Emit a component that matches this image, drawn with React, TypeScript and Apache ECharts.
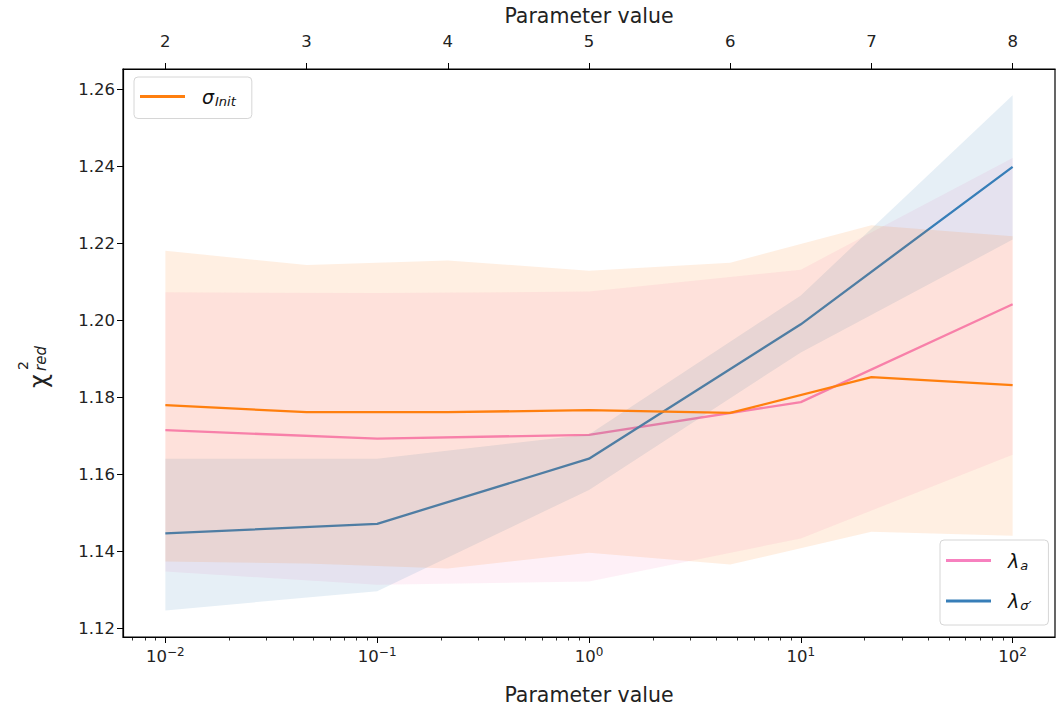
import React, { useEffect, useRef } from "react";
import * as echarts from "echarts";

// λ parameters (bottom, logarithmic axis)
const lambdaX = [0.01, 0.1, 1, 10, 100];
const lambdaAMean = [1.1714, 1.1692, 1.1702, 1.1787, 1.2041];
const lambdaALow = [1.1347, 1.1313, 1.1321, 1.1433, 1.165];
const lambdaAHigh = [1.2072, 1.207, 1.2074, 1.2131, 1.2421];

const lambdaSMean = [1.1446, 1.1471, 1.164, 1.1989, 1.2398];
const lambdaSLow = [1.1246, 1.1296, 1.1559, 1.1916, 1.2209];
const lambdaSHigh = [1.164, 1.164, 1.1703, 1.2064, 1.2584];

// σ_Init parameter (top, linear axis)
const sigmaX = [2, 3, 4, 5, 6, 7, 8];
const sigmaMean = [1.1779, 1.1761, 1.1761, 1.1766, 1.1759, 1.1852, 1.1831];
const sigmaLow = [1.1373, 1.1368, 1.1355, 1.1396, 1.1365, 1.145, 1.144];
const sigmaHigh = [1.218, 1.2143, 1.2155, 1.2128, 1.2149, 1.2246, 1.2218];

// axis ticks
const yTicks = [1.12, 1.14, 1.16, 1.18, 1.2, 1.22, 1.24, 1.26];
const logMajorTicks = [-2, -1, 0, 1, 2];
const logMinorMultipliers = [2, 3, 4, 5, 6, 7, 8, 9];
const logDecades = [-3, -2, -1, 0, 1, 2];
const topTicks = [2, 3, 4, 5, 6, 7, 8];

const FONT = "DejaVu Sans";
const ORANGE = "#ff7f0e";
const PINK = "#f781bf";
const BLUE = "#377eb8";

const LOG_MIN = -2.2;
const LOG_MAX = 2.2;

const logMinorTicks: number[] = [];
logDecades.forEach((d) => {
  logMinorMultipliers.forEach((m) => {
    const v = Math.log10(m) + d;
    if (v > LOG_MIN && v < LOG_MAX) logMinorTicks.push(v);
  });
});

function band(
  name: string,
  xAxisIndex: number,
  xs: number[],
  lo: number[],
  hi: number[],
  color: string,
  opacity: number,
  z: number
) {
  return {
    type: "custom",
    name,
    xAxisIndex,
    yAxisIndex: 0,
    z,
    silent: true,
    data: xs.map((x, i) => [x, lo[i], hi[i]]),
    encode: { x: 0, y: [1, 2] },
    renderItem: (params: any, api: any) => {
      if (params.dataIndex !== 0) return null;
      const upper = xs.map((x, i) => api.coord([x, hi[i]]));
      const lower = xs.map((x, i) => api.coord([x, lo[i]])).reverse();
      return {
        type: "polygon",
        shape: { points: upper.concat(lower) },
        style: { fill: color, opacity },
      };
    },
  };
}

function line(name: string, xAxisIndex: number, xs: number[], ys: number[], color: string, z: number) {
  return {
    type: "line",
    name,
    xAxisIndex,
    yAxisIndex: 0,
    z,
    data: xs.map((x, i) => [x, ys[i]]),
    showSymbol: false,
    symbol: "none",
    color,
    itemStyle: { color },
    lineStyle: { color, width: 2.3 },
  };
}

const legendRich = {
  g: { fontFamily: FONT, fontSize: 19, fontStyle: "italic", color: "#111", padding: [0, 0, 0, 12] },
  s: { fontFamily: FONT, fontSize: 13, fontStyle: "italic", color: "#111", padding: [9, 0, 0, 1] },
};

const legendLabels: Record<string, string> = {
  "σ_Init": "{g|σ}{s|Init}",
  "λ_a": "{g|λ}{s|a}",
  "λ_σ'": "{g|λ}{s|σ′}",
};

export default function App() {
  const ref = useRef<HTMLDivElement>(null);

  useEffect(() => {
    if (!ref.current) return;
    const chart = echarts.init(ref.current, undefined, { renderer: "svg" });
    const lx = lambdaX.map((v) => Math.log10(v));

    chart.setOption({
      animation: false,
      backgroundColor: "#ffffff",
      textStyle: { fontFamily: FONT },
      grid: {
        left: 123,
        right: 2,
        top: 67,
        bottom: 76,
        show: true,
        borderColor: "#000",
        borderWidth: 1.2,
        backgroundColor: "transparent",
      },
      xAxis: [
        {
          type: "value",
          position: "bottom",
          min: LOG_MIN,
          max: LOG_MAX,
          name: "Parameter value",
          nameLocation: "middle",
          nameGap: 47,
          nameTextStyle: { fontFamily: FONT, fontSize: 20.5, color: "#222" },
          axisLine: { show: true, onZero: false, lineStyle: { color: "#000", width: 1.2 } },
          axisTick: { show: true, customValues: logMajorTicks, length: 6, lineStyle: { color: "#000", width: 1 } },
          axisLabel: {
            customValues: logMajorTicks,
            margin: 9,
            fontFamily: FONT,
            fontSize: 16.5,
            color: "#222",
            formatter: (v: number) => `10{s|${v < 0 ? "−" + Math.abs(v) : v}}`,
            rich: { s: { fontFamily: FONT, fontSize: 12, color: "#222", padding: [0, 0, 9, 0] } },
          },
          splitLine: { show: false },
        },
        {
          type: "value",
          position: "bottom",
          min: LOG_MIN,
          max: LOG_MAX,
          axisLine: { show: false, onZero: false },
          axisTick: { show: true, customValues: logMinorTicks, length: 3.5, lineStyle: { color: "#000", width: 0.8 } },
          axisLabel: { show: false },
          splitLine: { show: false },
        },
        {
          type: "value",
          position: "top",
          min: 1.7,
          max: 8.3,
          name: "Parameter value",
          nameLocation: "middle",
          nameGap: 43,
          nameTextStyle: { fontFamily: FONT, fontSize: 20.5, color: "#222" },
          axisLine: { show: true, onZero: false, lineStyle: { color: "#000", width: 1.2 } },
          axisTick: { show: true, customValues: topTicks, length: 6, lineStyle: { color: "#000", width: 1 } },
          axisLabel: {
            customValues: topTicks,
            margin: 19,
            fontFamily: FONT,
            fontSize: 16.5,
            color: "#222",
          },
          splitLine: { show: false },
        },
      ],
      yAxis: {
        type: "value",
        min: 1.1177,
        max: 1.2652,
        axisLine: { show: true, onZero: false, lineStyle: { color: "#000", width: 1.2 } },
        axisTick: { show: true, customValues: yTicks, length: 6, lineStyle: { color: "#000", width: 1 } },
        axisLabel: {
          customValues: yTicks,
          margin: 8,
          fontFamily: FONT,
          fontSize: 16.5,
          color: "#222",
          formatter: (v: number) => v.toFixed(2),
        },
        splitLine: { show: false },
      },
      legend: [
        {
          data: ["σ_Init"],
          left: 134,
          top: 77,
          orient: "vertical",
          icon: "rect",
          itemWidth: 45,
          itemHeight: 3,
          padding: [10, 16, 11, 6],
          backgroundColor: "rgba(255,255,255,0.85)",
          borderColor: "#d6d6d6",
          borderWidth: 1,
          borderRadius: 4,
          z: 20,
          formatter: (n: string) => legendLabels[n] || n,
          textStyle: { fontFamily: FONT, fontSize: 19, rich: legendRich },
        },
        {
          data: ["λ_a", "λ_σ'"],
          left: 940,
          top: 540,
          orient: "vertical",
          icon: "rect",
          itemWidth: 45,
          itemHeight: 3,
          itemGap: 20,
          padding: [11, 17, 13, 6],
          backgroundColor: "rgba(255,255,255,0.85)",
          borderColor: "#d6d6d6",
          borderWidth: 1,
          borderRadius: 4,
          z: 20,
          formatter: (n: string) => legendLabels[n] || n,
          textStyle: { fontFamily: FONT, fontSize: 19, rich: legendRich },
        },
      ],
      graphic: [
        {
          type: "group",
          x: 20,
          y: 390,
          rotation: Math.PI / 2,
          children: [
            {
              type: "text",
              style: { text: "χ", x: 2, y: 19, fontFamily: FONT, fontSize: 24, fill: "#222", align: "left", verticalAlign: "middle" },
            },
            {
              type: "text",
              style: { text: "2", x: 20, y: 3, fontFamily: FONT, fontSize: 14, fill: "#222", align: "left", verticalAlign: "middle" },
            },
            {
              type: "text",
              style: { text: "red", x: 19, y: 21, fontFamily: FONT, fontSize: 15, fontStyle: "italic", fill: "#222", align: "left", verticalAlign: "middle" },
            },
          ],
        },
      ],
      series: [
        band("λ_a band", 0, lx, lambdaALow, lambdaAHigh, PINK, 0.12, 1),
        line("λ_a", 0, lx, lambdaAMean, PINK, 2),
        band("λ_σ' band", 0, lx, lambdaSLow, lambdaSHigh, BLUE, 0.125, 3),
        line("λ_σ'", 0, lx, lambdaSMean, BLUE, 4),
        band("σ_Init band", 2, sigmaX, sigmaLow, sigmaHigh, ORANGE, 0.12, 5),
        line("σ_Init", 2, sigmaX, sigmaMean, ORANGE, 6),
      ],
    });

    return () => chart.dispose();
  }, []);

  return (
    <div
      ref={ref}
      style={{ position: "absolute", left: 0, top: 0, width: 1057, height: 713, background: "#fff" }}
    />
  );
}
